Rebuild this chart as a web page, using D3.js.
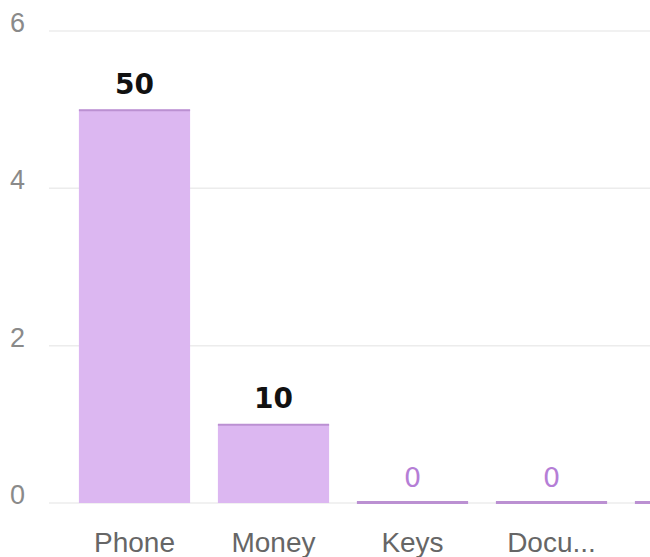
<!DOCTYPE html>
<html>
<head>
<meta charset="utf-8">
<script src="https://cdn.jsdelivr.net/npm/d3@7"></script>
<style>
  html, body { margin: 0; padding: 0; background: #fff; }
  svg { display: block; }
</style>
</head>
<body>
<svg id="chart" width="650" height="557"></svg>
<script>
const categories = ["Phone", "Money", "Keys", "Docu...", "Other"];
const values = [5, 1, 0, 0, 0];
const valueLabels = ["50", "10", "0", "0", "0"];
const yTicks = [0, 2, 4, 6];

const W = 650, H = 557;
const svg = d3.select("#chart");

const y = d3.scaleLinear().domain([0, 6]).range([503, 31]);
const x = d3.scaleBand().domain(categories).range([65, 760]).paddingInner(0.2).paddingOuter(0.1);

// only label categories whose centre is inside the view
const inView = c => x(c) + x.bandwidth() / 2 < W;

// gridlines
svg.append("g").selectAll("line").data(yTicks).join("line")
  .attr("x1", 49).attr("x2", W)
  .attr("y1", d => y(d)).attr("y2", d => y(d))
  .attr("stroke", "#ececec").attr("stroke-width", 1.5);

// y labels
svg.append("g").selectAll("text").data(yTicks).join("text")
  .attr("x", 10).attr("y", d => y(d) + 1)
  .attr("font-family", "'Liberation Sans', Arial, sans-serif")
  .attr("font-size", 27).attr("fill", "#8a8a8a")
  .text(d => d);

const data = categories.map((c, i) => ({ c, v: values[i], l: valueLabels[i] }));

// bars
const bars = svg.append("g");
bars.selectAll("rect").data(data.filter(d => d.v > 0)).join("rect")
  .attr("x", d => x(d.c)).attr("width", x.bandwidth())
  .attr("y", d => y(d.v)).attr("height", d => y(0) - y(d.v))
  .attr("fill", "#dcb7f1");
// top edges
bars.selectAll("line").data(data).join("line")
  .attr("x1", d => x(d.c)).attr("x2", d => x(d.c) + x.bandwidth())
  .attr("y1", d => y(d.v) + (d.v > 0 ? 0.5 : -0.5)).attr("y2", d => y(d.v) + (d.v > 0 ? 0.5 : -0.5))
  .attr("stroke", "#bb90d2").attr("stroke-width", d => d.v > 0 ? 2 : 3);

// value labels
svg.append("g").selectAll("text").data(data.filter(d => inView(d.c))).join("text")
  .attr("x", d => x(d.c) + x.bandwidth() / 2)
  .attr("y", d => y(d.v) - 16)
  .attr("text-anchor", "middle")
  .attr("font-family", "'DejaVu Sans', sans-serif")
  .attr("font-weight", d => d.v > 0 ? "bold" : "normal")
  .attr("font-size", d => d.v > 0 ? 28 : 27)
  .attr("fill", d => d.v > 0 ? "#111" : "#b57ed6")
  .text(d => d.l);

// x labels
svg.append("g").selectAll("text").data(categories.filter(inView)).join("text")
  .attr("x", d => x(d) + x.bandwidth() / 2).attr("y", 552)
  .attr("text-anchor", "middle")
  .attr("font-family", "'Liberation Sans', Arial, sans-serif")
  .attr("font-size", 28).attr("fill", "#666")
  .text(d => d);
</script>
</body>
</html>
